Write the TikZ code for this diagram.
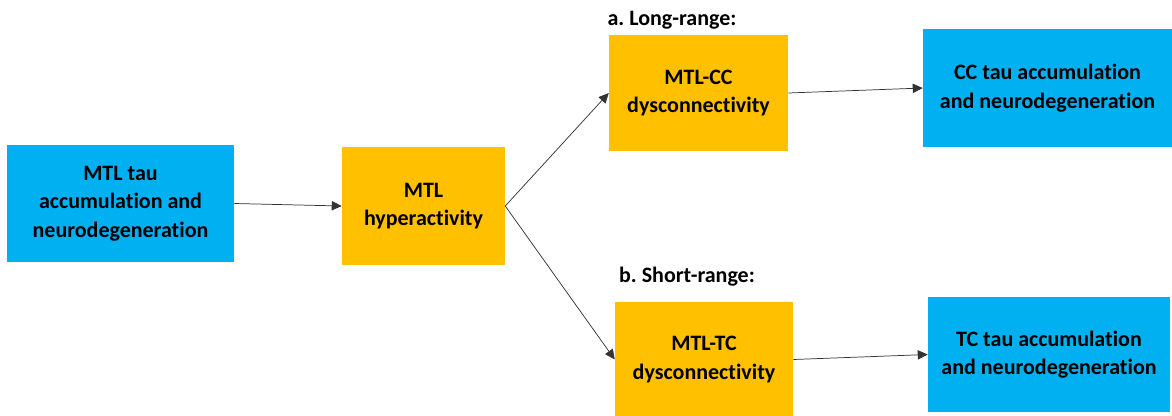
\documentclass[tikz,border=0pt]{standalone}
\usepackage{fontspec}
\setmainfont{Carlito}[Ligatures=NoCommon]
\frenchspacing
\usetikzlibrary{arrows.meta,positioning}
\definecolor{taublue}{HTML}{00B0F0}
\definecolor{connorange}{HTML}{FFC000}
\tikzset{
  flowarrow/.style={-{Triangle[length=7.5pt,width=7pt]}, draw=black!80, line width=0.55pt},
  taubox/.style={fill=taublue, align=center, inner sep=2pt,
    font=\fontsize{16.5}{21.5}\selectfont\bfseries},
  connbox/.style={fill=connorange, align=center, inner sep=2pt,
    font=\fontsize{16.5}{21.5}\selectfont\bfseries},
  rangenote/.style={inner sep=0pt, font=\fontsize{16.5}{21.5}\selectfont\bfseries}
}

\begin{document}
\begin{tikzpicture}[x=0.75pt, y=-0.75pt]
    \useasboundingbox (0,0) rectangle (1172,415);

    \node[taubox, minimum width=170.25pt, minimum height=87.75pt] (mtltau) at (120.5,203.5)
        {MTL tau\\accumulation and\\neurodegeneration};
    \node[connbox, minimum width=122.25pt, minimum height=88.5pt] (hyper) at (423.5,206)
        {MTL\\hyperactivity};

    \node[connbox, minimum width=134.25pt, minimum height=87pt] (mtlcc) at (698.5,93)
        {MTL-CC\\dysconnectivity};
    \node[taubox, minimum width=186.75pt, minimum height=88.5pt] (cctau) at (1047.5,88)
        {CC tau accumulation\\and neurodegeneration};

    \node[connbox, minimum width=133.5pt, minimum height=86.25pt] (mtltc) at (704,359.5)
        {MTL-TC\\dysconnectivity};
    \node[taubox, minimum width=181.5pt, minimum height=86.25pt] (tctau) at (1049,354.5)
        {TC tau accumulation\\and neurodegeneration};

    \node[rangenote] (longrange) at (672,20) {a. Long-range:};
    \node[rangenote] (shortrange) at (687,277) {b. Short-range:};

    \draw[flowarrow] (mtltau.east) -- (hyper.west);
    \draw[flowarrow] (hyper.east) -- (mtlcc.west);
    \draw[flowarrow] (hyper.east) -- (mtltc.west);
    \draw[flowarrow] (mtlcc.east) -- (cctau.west);
    \draw[flowarrow] (mtltc.east) -- (tctau.west);
\end{tikzpicture}
\end{document}
